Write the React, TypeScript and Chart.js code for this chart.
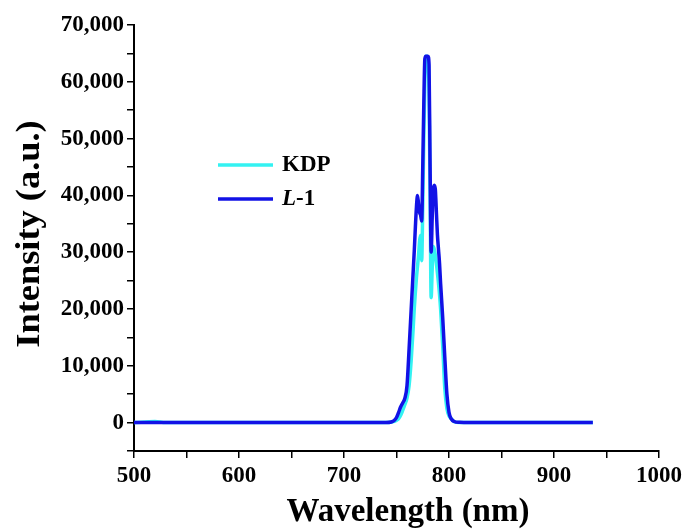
import React, { useEffect, useRef } from "react";
import { Chart, registerables } from "chart.js";

Chart.register(...registerables);

const wavelengths = [500, 520, 530, 540, 600, 700, 740, 745, 748, 750, 752, 754, 756, 758, 760, 762, 764, 766, 767, 768, 769, 770, 771, 772, 773, 774, 775, 776, 777, 778, 779, 780, 781, 782, 783, 784, 785, 786, 787, 788, 789, 790, 791, 792, 794, 796, 798, 800, 802, 805, 810, 820, 850, 900, 937];

const kdpValues = [0, 200, 0, 0, 0, 0, 0, 100, 200, 400, 700, 1300, 2200, 3200, 4300, 6500, 11000, 17000, 20300, 23000, 25500, 27500, 29500, 32000, 33000, 28500, 38000, 50000, 60000, 64500, 64500, 64000, 58000, 40000, 22000, 27000, 31000, 30500, 29500, 28000, 26300, 24500, 22500, 20000, 13500, 6000, 2500, 1200, 700, 150, 0, 0, 0, 0, 0];

const l1Values = [0, 0, 0, 0, 0, 0, 0, 100, 400, 900, 1800, 2800, 3500, 4300, 6500, 13000, 20000, 27000, 30500, 34500, 38000, 40000, 38500, 37000, 36500, 35500, 45000, 56000, 64000, 64500, 64500, 64500, 63000, 45000, 30000, 36000, 41000, 41800, 41000, 37000, 33000, 30500, 28000, 24500, 18500, 11500, 5000, 1800, 700, 200, 50, 0, 0, 0, 0];

const seriesNames = ["KDP", "L-1"];
const xTickLabels = [500, 600, 700, 800, 900, 1000];
const yTickLabels = [0, 10000, 20000, 30000, 40000, 50000, 60000, 70000];
const xTitle = "Wavelength (nm)";
const yTitle = "Intensity (a.u.)";

const CYAN = "#33f2f2";
const BLUE = "#1212e6";
const FONT = "'Liberation Serif', 'Times New Roman', serif";

const overlayPlugin = {
  id: "overlayText",
  afterDraw(chart: any) {
    const ctx = chart.ctx;
    ctx.save();
    const items = [
      { color: CYAN, y: 165 },
      { color: BLUE, y: 199 },
    ];
    items.forEach((it, i) => {
      ctx.strokeStyle = it.color;
      ctx.lineWidth = 3.5;
      ctx.beginPath();
      ctx.moveTo(218, it.y);
      ctx.lineTo(273, it.y);
      ctx.stroke();
      ctx.fillStyle = "#000";
      ctx.textBaseline = "middle";
      ctx.textAlign = "left";
      const name = seriesNames[i];
      if (name.startsWith("L-")) {
        ctx.font = `italic bold 23px ${FONT}`;
        ctx.fillText("L", 282, it.y);
        const w = ctx.measureText("L").width;
        ctx.font = `bold 23px ${FONT}`;
        ctx.fillText(name.slice(1), 282 + w, it.y);
      } else {
        ctx.font = `bold 23px ${FONT}`;
        ctx.fillText(name, 282, it.y);
      }
    });
    // axis titles
    ctx.fillStyle = "#000";
    ctx.textAlign = "center";
    ctx.textBaseline = "middle";
    ctx.font = `bold 33px ${FONT}`;
    ctx.fillText(xTitle, 408, 512);
    ctx.save();
    ctx.translate(30, 234);
    ctx.rotate(-Math.PI / 2);
    ctx.scale(1.07, 1);
    ctx.font = `bold 34px ${FONT}`;
    ctx.fillText(yTitle, 0, 0);
    ctx.restore();
    ctx.restore();
  },
};

export default function App() {
  const ref = useRef<HTMLCanvasElement>(null);

  useEffect(() => {
    if (!ref.current) return;
    const toPts = (vals: number[]) => wavelengths.map((x, i) => ({ x, y: vals[i] }));
    const chart = new Chart(ref.current, {
      type: "line",
      data: {
        datasets: [
          {
            label: seriesNames[1],
            data: toPts(l1Values),
            borderColor: BLUE,
            borderWidth: 3.5,
            pointRadius: 0,
            fill: false,
            cubicInterpolationMode: "monotone",
          },
          {
            label: seriesNames[0],
            data: toPts(kdpValues),
            borderColor: CYAN,
            borderWidth: 3.5,
            pointRadius: 0,
            fill: false,
            cubicInterpolationMode: "monotone",
          },
        ],
      },
      options: {
        animation: false,
        responsive: false,
        devicePixelRatio: 1,
        layout: { padding: { top: 25, right: 26, left: 0, bottom: 0 } },
        plugins: { legend: { display: false }, tooltip: { enabled: false } },
        scales: {
          x: {
            type: "linear",
            min: 500,
            max: 1000,
            afterFit: (s: any) => {
              s.height = 80;
            },
            afterBuildTicks: (s: any) => {
              const t = [];
              for (let v = 500; v <= 1000; v += 50) t.push({ value: v });
              s.ticks = t;
            },
            ticks: {
              autoSkip: false,
              maxRotation: 0,
              padding: 4,
              color: "#000",
              font: { family: FONT, size: 23, weight: "bold" },
              callback: (v: any) => (xTickLabels.includes(v) ? String(v) : ""),
            },
            grid: {
              display: true,
              drawOnChartArea: false,
              drawTicks: true,
              tickLength: 7,
              color: "#000",
              lineWidth: 1.5,
            },
            border: { display: true, color: "#000", width: 2 },
            title: { display: false },
          },
          y: {
            type: "linear",
            min: -5000,
            max: 70000,
            afterFit: (s: any) => {
              s.width = 134;
            },
            afterBuildTicks: (s: any) => {
              const t = [];
              for (let v = -5000; v <= 70000; v += 5000) t.push({ value: v });
              s.ticks = t;
            },
            ticks: {
              autoSkip: false,
              padding: 3,
              color: "#000",
              font: { family: FONT, size: 23, weight: "bold" },
              callback: (v: any) => (yTickLabels.includes(v) ? Number(v).toLocaleString("en-US") : ""),
            },
            grid: {
              display: true,
              drawOnChartArea: false,
              drawTicks: true,
              tickLength: 7,
              color: "#000",
              lineWidth: 1.5,
            },
            border: { display: true, color: "#000", width: 2 },
            title: { display: false },
          },
        },
      },
      plugins: [overlayPlugin],
    } as any);
    return () => chart.destroy();
  }, []);

  return (
    <div style={{ position: "fixed", left: 0, top: 0, width: 686, height: 531, background: "#fff" }}>
      <canvas ref={ref} width={686} height={531} />
    </div>
  );
}
